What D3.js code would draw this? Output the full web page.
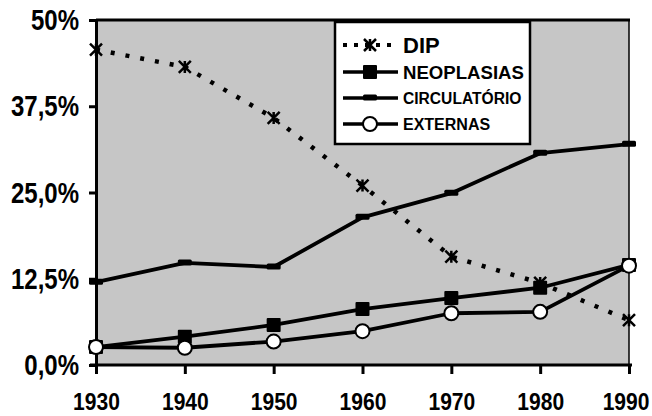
<!DOCTYPE html>
<html>
<head>
<meta charset="utf-8">
<script src="https://cdn.jsdelivr.net/npm/d3@7"></script>
<style>
  body { margin: 0; background: #fff; }
  svg text { font-family: "Liberation Sans", Arial, sans-serif; font-weight: bold; fill: #000; }
</style>
</head>
<body>
<div class="container"></div>
<script>
const YEARS = [1930, 1940, 1950, 1960, 1970, 1980, 1990];
const Y_TICKS = [0, 12.5, 25, 37.5, 50];
const Y_TICK_LABELS = ["0,0%", "12,5%", "25,0%", "37,5%", "50%"];
const DIP = [45.7, 43.2, 35.8, 26.0, 15.7, 11.9, 6.5];
const NEOPLASIAS = [2.6, 4.1, 5.8, 8.1, 9.7, 11.2, 14.5];
const CIRCULATORIO = [12.0, 14.8, 14.2, 21.4, 24.9, 30.7, 32.0];
const EXTERNAS = [2.6, 2.5, 3.4, 4.9, 7.5, 7.7, 14.4];
const SERIES_NAMES = ["DIP", "NEOPLASIAS", "CIRCULATÓRIO", "EXTERNAS"];

const WIDTH = 652, HEIGHT = 416;
const MARGIN = { top: 20, right: 23, bottom: 51, left: 96 };

const xScale = d3.scaleLinear()
  .domain(d3.extent(YEARS))
  .range([MARGIN.left, WIDTH - MARGIN.right]);
const yScale = d3.scaleLinear()
  .domain([0, 50])
  .range([HEIGHT - MARGIN.bottom, MARGIN.top]);

const svg = d3.select(".container")
  .append("svg")
  .attr("viewBox", [0, 0, WIDTH, HEIGHT])
  .attr("width", WIDTH)
  .attr("height", HEIGHT);

// squeeze tick text horizontally (the source uses a narrow bold face)
function condense(sel, k) {
  sel.each(function () {
    const t = d3.select(this);
    const x = +t.attr("x") || 0;
    t.attr("transform", `translate(${x},0) scale(${k},1) translate(${-x},0)`);
  });
}

// gray plot area
svg.append("rect")
  .attr("x", xScale(1930))
  .attr("y", yScale(50))
  .attr("width", xScale(1990) - xScale(1930))
  .attr("height", yScale(0) - yScale(50))
  .attr("fill", "#c6c6c6");

// frame: top + right
svg.append("line")
  .attr("x1", xScale(1930)).attr("x2", xScale(1990) + 1)
  .attr("y1", yScale(50)).attr("y2", yScale(50))
  .attr("stroke", "#000").attr("stroke-width", 3);
svg.append("line")
  .attr("x1", xScale(1990)).attr("x2", xScale(1990))
  .attr("y1", yScale(50)).attr("y2", yScale(0))
  .attr("stroke", "#000").attr("stroke-width", 1.5);

// axes
const xAxis = (g) => g
  .attr("transform", `translate(0, ${yScale(0)})`)
  .call(d3.axisBottom(xScale).tickValues(YEARS).tickFormat(d3.format("d"))
    .tickSize(9).tickPadding(19).tickSizeOuter(0))
  .call((g) => g.select(".domain").attr("stroke-width", 3)
    .attr("d", `M${xScale(1930) - 6},0H${xScale(1990) + 3}`))
  .call((g) => g.selectAll(".tick line").attr("stroke-width", 3))
  .call((g) => g.selectAll(".tick text").attr("font-size", 24.5)
    .attr("font-family", "'Liberation Sans', Arial, sans-serif").attr("font-weight", "bold")
    .call(condense, 0.86))
  // last label sits a bit left of its tick, as in the source
  .call((g) => g.selectAll(".tick text").filter((d) => d === 1990).attr("dx", -4));

const yAxis = (g) => g
  .attr("transform", `translate(${xScale(1930)}, 0)`)
  .call(d3.axisLeft(yScale).tickValues(Y_TICKS)
    .tickFormat((d, i) => Y_TICK_LABELS[i])
    .tickSize(7).tickPadding(10).tickSizeOuter(0))
  .call((g) => g.select(".domain").attr("stroke-width", 3))
  .call((g) => g.selectAll(".tick line").attr("stroke-width", 3))
  .call((g) => g.selectAll(".tick text").attr("font-size", 30)
    .attr("font-family", "'Liberation Sans', Arial, sans-serif").attr("font-weight", "bold")
    .call(condense, 0.8));

svg.append("g").call(xAxis);
svg.append("g").call(yAxis);

const line = d3.line()
  .x((d, i) => xScale(YEARS[i]))
  .y((d) => yScale(d));

// marker drawers
const starPath = (s) => `M${-s},${-s}L${s},${s}M${-s},${s}L${s},${-s}M0,${-s}L0,${s}`;
function drawStar(g, x, y) {
  g.append("path").attr("transform", `translate(${x},${y})`)
    .attr("d", starPath(6)).attr("stroke", "#000").attr("stroke-width", 2.5).attr("fill", "none");
}
function drawSquare(g, x, y) {
  g.append("rect").attr("x", x - 7).attr("y", y - 7).attr("width", 14).attr("height", 14)
    .attr("rx", 1).attr("fill", "#000");
}
function drawDash(g, x, y) {
  g.append("rect").attr("x", x - 7).attr("y", y - 3.5).attr("width", 14).attr("height", 6)
    .attr("rx", 1.5).attr("fill", "#000");
}
function drawCircle(g, x, y) {
  g.append("circle").attr("cx", x).attr("cy", y).attr("r", 7)
    .attr("fill", "#fff").attr("stroke", "#000").attr("stroke-width", 2);
}

const series = [
  { name: SERIES_NAMES[0], values: DIP, dash: "4,11", width: 4.5, marker: drawStar },
  { name: SERIES_NAMES[2], values: CIRCULATORIO, dash: null, width: 3.8, marker: drawDash },
  { name: SERIES_NAMES[1], values: NEOPLASIAS, dash: null, width: 3.8, marker: drawSquare },
  { name: SERIES_NAMES[3], values: EXTERNAS, dash: null, width: 3.8, marker: drawCircle },
];

for (const s of series) {
  const g = svg.append("g");
  g.append("path")
    .attr("d", line(s.values))
    .attr("fill", "none")
    .attr("stroke", "#000")
    .attr("stroke-width", s.width)
    .attr("stroke-dasharray", s.dash)
    .attr("stroke-linejoin", "round");
  s.values.forEach((v, i) => s.marker(g, xScale(YEARS[i]), yScale(v)));
}

// legend
const legend = svg.append("g");
legend.append("rect")
  .attr("x", 335).attr("y", 22).attr("width", 195).attr("height", 122)
  .attr("fill", "#fff").attr("stroke", "#000").attr("stroke-width", 2.5);

const legendRows = [
  { name: SERIES_NAMES[0], y: 45, size: 22, dash: "4,7", marker: drawStar },
  { name: SERIES_NAMES[1], y: 72, size: 18.6, dash: null, marker: drawSquare },
  { name: SERIES_NAMES[2], y: 98, size: 15.6, dash: null, marker: drawDash },
  { name: SERIES_NAMES[3], y: 124, size: 16, dash: null, marker: drawCircle },
];
for (const r of legendRows) {
  legend.append("line")
    .attr("x1", 343).attr("x2", 398).attr("y1", r.y).attr("y2", r.y)
    .attr("stroke", "#000").attr("stroke-width", r.dash ? 4 : 3.5)
    .attr("stroke-dasharray", r.dash);
  r.marker(legend, 370, r.y);
  legend.append("text")
    .attr("x", 403).attr("y", r.y)
    .attr("dy", "0.36em")
    .attr("font-size", r.size)
    .text(r.name);
}
</script>
</body>
</html>
